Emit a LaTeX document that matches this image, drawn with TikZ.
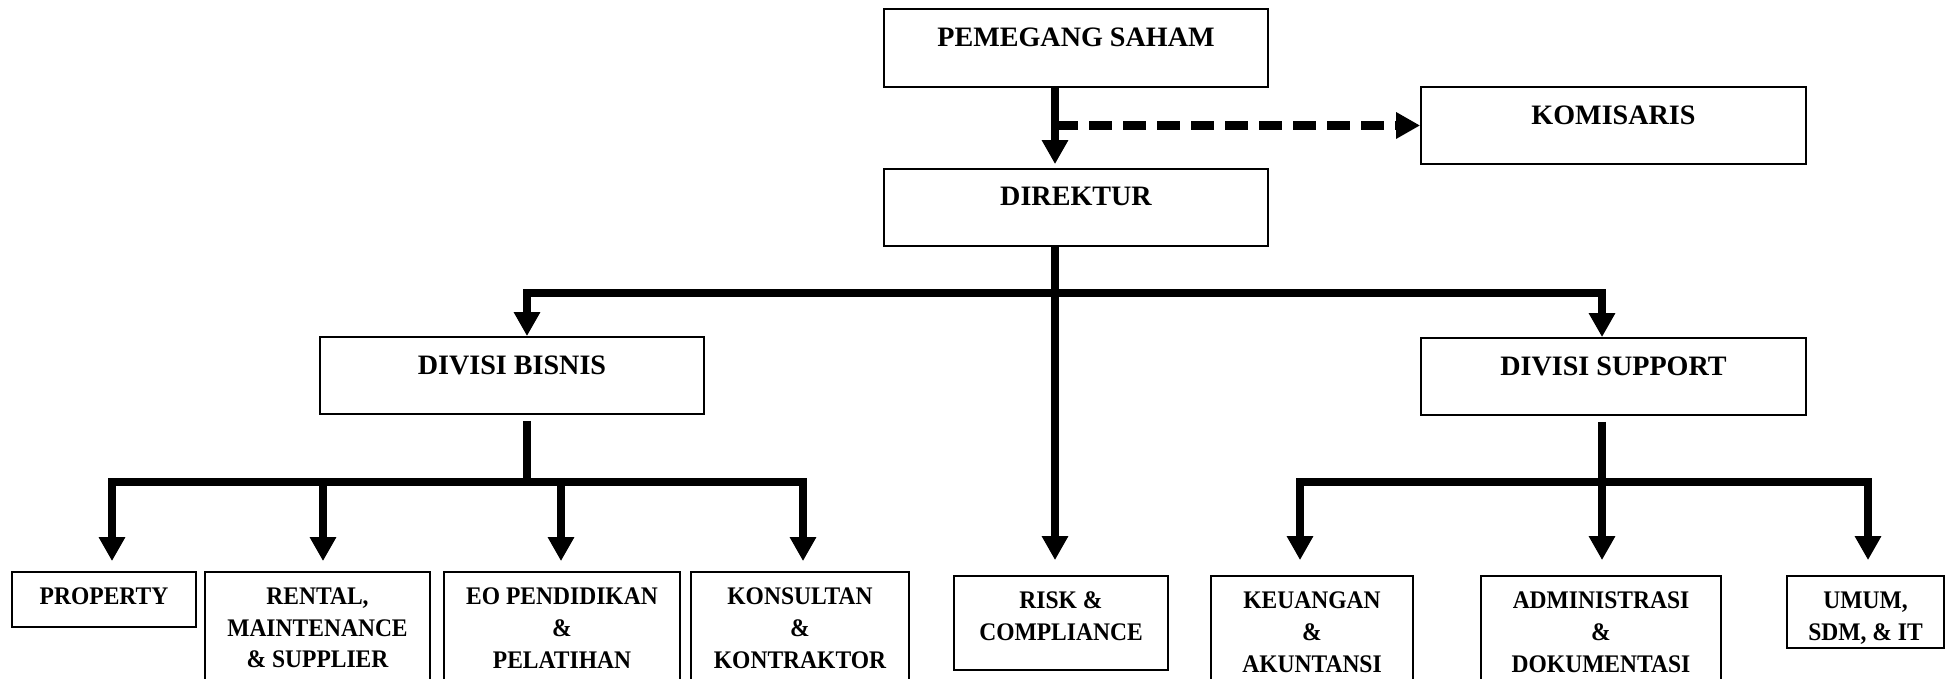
\documentclass[tikz,border=0pt]{standalone}
\usepackage{fontspec}
\setmainfont{Liberation Serif}
\newfontfamily\orgfont[FakeStretch=0.93]{Liberation Serif}
\usetikzlibrary{arrows.meta,positioning,calc}
\tikzset{
	orgbox/.style={draw, line width=0.5pt, inner sep=0pt, font=\orgfont\bfseries\fontsize{7.2}{9}\selectfont},
	topbox/.style={orgbox, font=\rmfamily\bfseries\fontsize{8}{10}\selectfont},
	busline/.style={line width=0.8mm},
	conn/.style={busline, -{Triangle[width=2.5mm,length=2.4mm]}},
	dashconn/.style={line width=0.9mm, dash pattern=on 2.3mm off 1.1mm, -{Triangle[width=2.5mm,length=2.4mm]}},
}
\newcommand{\boxtext}[4][1.6mm]{\parbox[c][#3][t]{#2}{\centering\vspace*{#1}#4\par}}
\begin{document}
\begin{tikzpicture}[x=0.1mm,y=-0.1mm]
			\useasboundingbox (0,0) rectangle (1950,679);
			\node[topbox] (psaham) at(1076,48){\boxtext[1.85mm]{38.4mm}{7.8mm}{PEMEGANG SAHAM}};
			\node[topbox] (komisaris) at(1613.5,125.5){\boxtext[1.85mm]{38.5mm}{7.7mm}{KOMISARIS}};
			\node[topbox] (direktur) at(1076,207.5){\boxtext[1.85mm]{38.4mm}{7.7mm}{DIREKTUR}};
			\node[topbox] (bisnis) at(512,375.5){\boxtext[1.85mm]{38.4mm}{7.7mm}{DIVISI BISNIS}};
			\node[topbox] (support) at(1613.5,376.5){\boxtext[1.85mm]{38.5mm}{7.7mm}{DIVISI SUPPORT}};
			\node[orgbox] (property) at(104,599.5){\boxtext{18.4mm}{5.5mm}{PROPERTY}};
			\node[orgbox] (rental) at(317.5,636){\boxtext{22.5mm}{12.8mm}{RENTAL,\\MAINTENANCE\\\& SUPPLIER}};
			\node[orgbox] (eo) at(562,636){\boxtext{23.6mm}{12.8mm}{EO PENDIDIKAN\\\&\\PELATIHAN}};
			\node[orgbox] (konsultan) at(800,636){\boxtext{21.8mm}{12.8mm}{KONSULTAN\\\&\\KONTRAKTOR}};
			\node[orgbox] (risk) at(1061,623){\boxtext{21.4mm}{9.4mm}{RISK \&\\COMPLIANCE}};
			\node[orgbox] (keuangan) at(1312,638){\boxtext{20.2mm}{12.4mm}{KEUANGAN\\\&\\AKUNTANSI}};
			\node[orgbox] (admin) at(1601,638){\boxtext{24mm}{12.4mm}{ADMINISTRASI\\\&\\DOKUMENTASI}};
			\node[orgbox] (umum) at(1865.5,612){\boxtext{15.7mm}{7.2mm}{UMUM,\\SDM, \& IT}};
			\coordinate (xtrunk) at(1055,0);
			\coordinate (bus1) at(1055,293);
			\coordinate (bus2) at(527,482);
			\coordinate (bus3) at(1602,482);
			% pemegang saham - direktur - komisaris
			\draw[conn,shorten >=0.4mm](psaham.south -| xtrunk)--(direktur.north -| xtrunk);
			\draw[dashconn](komisaris.west -| xtrunk)--(komisaris.west);
			% direktur ke divisi
			\draw[busline](direktur.south -| xtrunk)--(bus1);
			\draw[conn](bus1)-|(bisnis.north -| bus2);
			\draw[conn](bus1)-|(support.north -| bus3);
			\draw[conn,shorten >=1.5mm](bus1)--(risk.north -| xtrunk);
			% divisi bisnis
			\draw[busline]($(bisnis.south -| bus2)+(0,6)$)--(bus2);
			\draw[conn](bus2)-|($(property.north)+(8,-10)$);
			\draw[conn](bus2)-|($(rental.north)+(5.5,-10)$);
			\draw[conn](bus2)-|($(eo.north)+(-1,-10)$);
			\draw[conn](bus2)-|($(konsultan.north)+(3,-10)$);
			% divisi support
			\draw[busline]($(support.south -| bus3)+(0,6)$)--(bus3);
			\draw[conn](bus3)-|($(keuangan.north)+(-12,-15)$);
			\draw[conn](bus3)-|($(admin.north)+(1,-15)$);
			\draw[conn](bus3)-|($(umum.north)+(2.5,-15)$);
\end{tikzpicture}
\end{document}
